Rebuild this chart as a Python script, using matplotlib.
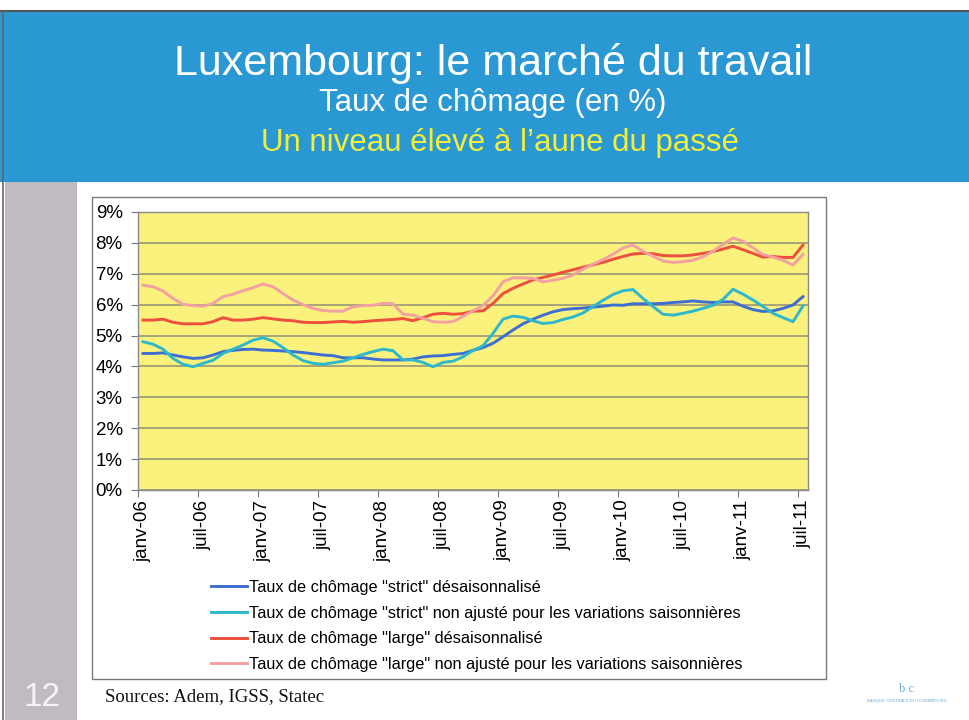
import numpy as np
import matplotlib
matplotlib.use("Agg")
from matplotlib import pyplot as plt
from matplotlib.patches import Rectangle

plt.rcParams['font.family'] = ['Liberation Sans', 'DejaVu Sans']

# Data: unemployment rates (%), monthly from janv-06 to juil-11
strict_sa = [4.42, 4.42, 4.44, 4.37, 4.31, 4.26, 4.28, 4.37, 4.48, 4.52, 4.55, 4.56,
             4.53, 4.52, 4.50, 4.48, 4.45, 4.41, 4.37, 4.35, 4.28, 4.28, 4.28, 4.24,
             4.21, 4.21, 4.21, 4.24, 4.31, 4.34, 4.35, 4.39, 4.42, 4.52, 4.61, 4.75,
             4.96, 5.18, 5.38, 5.53, 5.66, 5.77, 5.84, 5.87, 5.89, 5.92, 5.95, 5.99,
             5.98, 6.03, 6.03, 6.03, 6.04, 6.07, 6.09, 6.12, 6.09, 6.07, 6.09, 6.09,
             5.95, 5.84, 5.78, 5.80, 5.88, 5.99, 6.26]
strict_nsa = [4.80, 4.72, 4.56, 4.26, 4.07, 3.99, 4.10, 4.20, 4.42, 4.56, 4.69, 4.85,
              4.93, 4.82, 4.61, 4.37, 4.19, 4.10, 4.07, 4.12, 4.17, 4.28, 4.39, 4.48,
              4.56, 4.51, 4.21, 4.21, 4.13, 3.99, 4.13, 4.17, 4.31, 4.52, 4.67, 5.07,
              5.53, 5.63, 5.59, 5.48, 5.39, 5.42, 5.52, 5.60, 5.73, 5.94, 6.14, 6.33,
              6.45, 6.49, 6.20, 5.94, 5.69, 5.66, 5.72, 5.79, 5.88, 5.98, 6.17, 6.50,
              6.34, 6.15, 5.94, 5.72, 5.58, 5.45, 5.96]
large_sa = [5.50, 5.50, 5.53, 5.43, 5.38, 5.38, 5.38, 5.45, 5.58, 5.50, 5.50, 5.53,
            5.58, 5.54, 5.50, 5.48, 5.43, 5.42, 5.42, 5.44, 5.46, 5.43, 5.45, 5.48,
            5.50, 5.52, 5.55, 5.48, 5.58, 5.69, 5.72, 5.69, 5.71, 5.79, 5.80, 6.04,
            6.36, 6.53, 6.67, 6.80, 6.88, 6.96, 7.05, 7.13, 7.21, 7.29, 7.37, 7.47,
            7.56, 7.64, 7.66, 7.65, 7.59, 7.58, 7.58, 7.61, 7.66, 7.72, 7.80, 7.89,
            7.78, 7.66, 7.54, 7.56, 7.53, 7.53, 7.93]
large_nsa = [6.63, 6.58, 6.44, 6.20, 6.01, 5.97, 5.95, 6.04, 6.26, 6.34, 6.45, 6.55,
             6.67, 6.58, 6.36, 6.15, 6.00, 5.88, 5.81, 5.79, 5.79, 5.93, 5.97, 5.98,
             6.04, 6.03, 5.69, 5.66, 5.56, 5.45, 5.43, 5.45, 5.62, 5.80, 5.97, 6.28,
             6.74, 6.87, 6.87, 6.85, 6.74, 6.79, 6.85, 6.96, 7.15, 7.31, 7.46, 7.63,
             7.84, 7.93, 7.73, 7.57, 7.41, 7.37, 7.39, 7.44, 7.55, 7.73, 7.95, 8.16,
             8.05, 7.84, 7.62, 7.54, 7.44, 7.28, 7.63]

tick_labels = ["janv-06", "juil-06", "janv-07", "juil-07", "janv-08", "juil-08",
               "janv-09", "juil-09", "janv-10", "juil-10", "janv-11", "juil-11"]
label_step = 6

series_names = ['Taux de chômage "strict" désaisonnalisé',
                'Taux de chômage "strict" non ajusté pour les variations saisonnières',
                'Taux de chômage "large" désaisonnalisé',
                'Taux de chômage "large" non ajusté pour les variations saisonnières']
series_colors = ["#3d6fd2", "#2eb8cc", "#ee4f3e", "#f3a0a2"]


def main() -> None:
    W, H = 969, 720
    fig = plt.figure(figsize=(W / 100, H / 100), dpi=100)

    # slide background, drawn in pixel coordinates
    bg = fig.add_axes([0, 0, 1, 1], zorder=0)
    bg.set_xlim(0, W)
    bg.set_ylim(H, 0)
    bg.axis("off")
    bg.add_patch(Rectangle((0, 11), W, 171, facecolor="#2a98d2", edgecolor="none"))
    bg.plot([0, W], [11, 11], color="#555555", lw=1.5)
    bg.plot([3, 3], [11, H], color="#666666", lw=1.2)
    bg.add_patch(Rectangle((5, 182), 72, H - 182, facecolor="#bfbbc0", edgecolor="none"))
    bg.add_patch(Rectangle((92, 197), 734, 482, facecolor="white", edgecolor="#7a7a7a", lw=1))

    bg.text(493, 63, "Luxembourg: le marché du travail", color="white",
            fontsize=31, ha="center", va="center")
    bg.text(493, 103, "Taux de chômage (en %)", color="white",
            fontsize=22.5, ha="center", va="center")
    bg.text(500, 143, "Un niveau élevé à l’aune du passé", color="#f2ee3c",
            fontsize=22.5, ha="center", va="center")

    bg.text(42, 697, "12", color="#f4f4f4", fontsize=24, ha="center", va="center")
    bg.text(105, 697, "Sources: Adem, IGSS, Statec", color="#111111",
            fontsize=13.5, ha="left", va="center", family="Liberation Serif")
    bg.text(907, 689, "b c", color="#6aa9d6", fontsize=9, ha="center", va="center",
            family="Liberation Serif")
    bg.text(907, 701, "BANQUE CENTRALE DU LUXEMBOURG", color="#6aa9d6",
            fontsize=3, ha="center", va="center")

    # chart
    ax = fig.add_axes([138 / W, 1 - 490 / H, 670 / W, 278 / H], zorder=1)
    ax.set_facecolor("#faf27c")
    x = np.arange(len(strict_sa))
    for vals, name, col in zip([strict_sa, strict_nsa, large_sa, large_nsa],
                               series_names, series_colors):
        ax.plot(x, vals, color=col, lw=2.1, label=name, solid_joinstyle="round")

    ax.set_xlim(-0.5, len(x) - 0.5)
    ax.set_ylim(0, 9)
    ax.set_yticks(np.arange(0, 10))
    ax.set_yticklabels([f"{v}%" for v in range(10)])
    ax.yaxis.grid(True, color="#8f8f78", lw=1.1)
    ax.set_axisbelow(True)

    ax.set_xticks(np.arange(0, len(x), label_step) - 0.5)
    ax.set_xticklabels([])
    ax.set_xticks(np.arange(0, len(x), label_step), minor=True)
    ax.set_xticklabels(tick_labels, minor=True, rotation=90, fontsize=13.5)
    ax.tick_params(axis="x", which="minor", length=0, pad=7)
    ax.tick_params(axis="x", which="major", length=5, color="#777777", direction="out")
    ax.tick_params(axis="y", length=5, color="#777777", labelsize=13.5, pad=6)
    for sp in ax.spines.values():
        sp.set_color("#8a8a8a")
        sp.set_linewidth(1)

    ax.legend(loc="upper left", bbox_to_anchor=(211 / W, 1 - 580 / H),
              bbox_transform=fig.transFigure, frameon=False, fontsize=11.7,
              handlelength=2.2, handletextpad=0.15, labelspacing=0.66,
              borderpad=0, borderaxespad=0)

    plt.savefig("out.png", dpi=100)


if __name__ == "__main__":
    main()
